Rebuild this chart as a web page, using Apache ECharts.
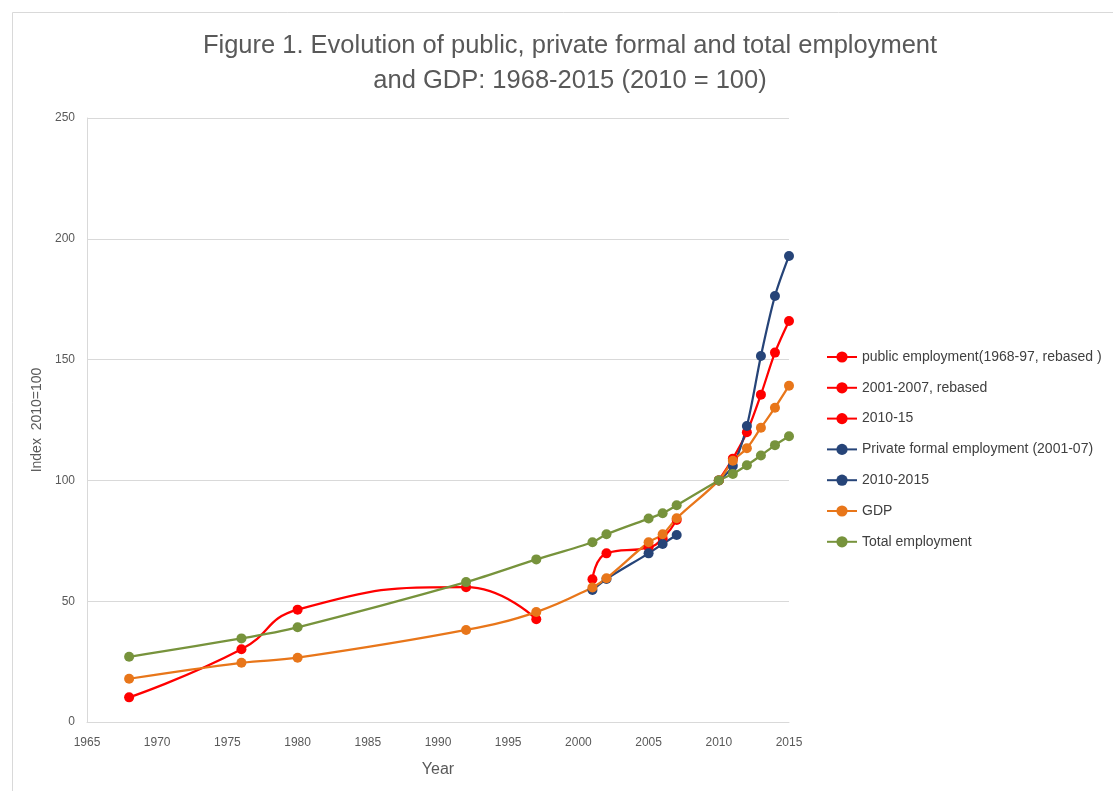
<!DOCTYPE html>
<html>
<head>
<meta charset="utf-8">
<script src="https://cdn.jsdelivr.net/npm/echarts@6/dist/echarts.min.js"></script>
<style>
html,body{margin:0;padding:0;background:#fff;}
#chart{width:1113px;height:791px;}
</style>
</head>
<body>
<div id="chart"></div>
<script>
// ---- data ----
const titleText = "Figure 1. Evolution of public, private formal and total employment\nand GDP: 1968-2015 (2010 = 100)";
const xTicks = [1965, 1970, 1975, 1980, 1985, 1990, 1995, 2000, 2005, 2010, 2015];
const yTicks = [0, 50, 100, 150, 200, 250];

const publicEarlyYears = [1968, 1976, 1980, 1992, 1997];
const publicEarlyValues = [10.2, 30.1, 46.5, 55.8, 42.5];

const publicMidYears = [2001, 2002, 2005, 2006, 2007];
const publicMidValues = [59.1, 69.8, 72.3, 76.0, 83.6];

const publicLateYears = [2010, 2011, 2012, 2013, 2014, 2015];
const publicLateValues = [100, 109.0, 119.9, 135.5, 152.9, 166.0];

const privateMidYears = [2001, 2002, 2005, 2006, 2007];
const privateMidValues = [54.6, 59.2, 69.8, 73.7, 77.4];

const privateLateYears = [2010, 2011, 2012, 2013, 2014, 2015];
const privateLateValues = [100, 106.0, 122.5, 151.5, 176.3, 192.9];

const gdpYears = [1968, 1976, 1980, 1992, 1997, 2001, 2002, 2005, 2006, 2007, 2010, 2011, 2012, 2013, 2014, 2015];
const gdpValues = [17.9, 24.5, 26.6, 38.1, 45.5, 55.7, 59.5, 74.4, 77.7, 84.3, 100, 108.1, 113.3, 121.8, 130.1, 139.2];

const totalYears = [1968, 1976, 1980, 1992, 1997, 2001, 2002, 2005, 2006, 2007, 2010, 2011, 2012, 2013, 2014, 2015];
const totalValues = [27.0, 34.6, 39.2, 57.9, 67.3, 74.4, 77.7, 84.2, 86.4, 89.7, 100, 102.7, 106.3, 110.3, 114.6, 118.3];

const seriesNames = [
  "public employment(1968-97, rebased )",
  "2001-2007, rebased",
  "2010-15",
  "Private formal employment (2001-07)",
  "2010-2015",
  "GDP",
  "Total employment"
];

// ---- build ----
const RED = '#FF0000', BLUE = '#264478', ORANGE = '#E8761A', GREEN = '#77933C';
const FONT = "'Liberation Sans Narrow', 'Liberation Sans', sans-serif";
function pairs(xs, ys){ return xs.map((x,i)=>[x, ys[i]]); }
function mk(name, xs, ys, color, smooth){
  return {
    name: name, type: 'line', data: pairs(xs, ys),
    smooth: smooth, symbol: 'circle', symbolSize: 10,
    lineStyle: {color: color, width: 2.25},
    itemStyle: {color: color},
    emphasis: {disabled: true}
  };
}

const chart = echarts.init(document.getElementById('chart'), null, {renderer: 'canvas'});
chart.setOption({
  animation: false,
  backgroundColor: '#fff',
  textStyle: {fontFamily: FONT},
  title: {
    text: titleText,
    left: 570, top: 28, textAlign: 'center', padding: 0,
    textStyle: {fontFamily: FONT, fontSize: 25.5, fontWeight: 'normal', color: '#595959', lineHeight: 35}
  },
  graphic: [{
    type: 'rect', silent: true, z: -1,
    shape: {x: 12.5, y: 12.5, width: 1300, height: 1000},
    style: {fill: 'none', stroke: '#D9D9D9', lineWidth: 1}
  }],
  legend: {
    orient: 'vertical', left: 826, top: 350, padding: 0,
    itemWidth: 30, itemHeight: 14, itemGap: 16.8,
    textStyle: {fontFamily: FONT, fontSize: 14, color: '#404040'},
    data: seriesNames
  },
  grid: {left: 87, top: 118, width: 702, height: 604, containLabel: false},
  xAxis: {
    type: 'value', min: xTicks[0], max: xTicks[xTicks.length-1], interval: 5,
    name: 'Year', nameLocation: 'middle', nameGap: 40,
    nameTextStyle: {fontFamily: FONT, fontSize: 16, color: '#595959'},
    axisLine: {show: true, lineStyle: {color: '#D9D9D9', width: 1}},
    axisTick: {show: false},
    axisLabel: {margin: 15, fontSize: 12, color: '#595959', fontFamily: FONT,
      formatter: v => String(v)},
    splitLine: {show: false}
  },
  yAxis: {
    type: 'value', min: yTicks[0], max: yTicks[yTicks.length-1], interval: 50,
    name: 'Index  2010=100', nameLocation: 'middle', nameGap: 35,
    nameTextStyle: {fontFamily: FONT, fontSize: 14, color: '#595959'},
    axisLine: {show: true, lineStyle: {color: '#D9D9D9', width: 1}},
    axisTick: {show: false},
    axisLabel: {margin: 12, fontSize: 12, color: '#595959', fontFamily: FONT},
    splitLine: {show: true, lineStyle: {color: '#D9D9D9', width: 1}}
  },
  series: [
    mk(seriesNames[0], publicEarlyYears, publicEarlyValues, RED, 0.5),
    mk(seriesNames[1], publicMidYears, publicMidValues, RED, 0.5),
    mk(seriesNames[2], publicLateYears, publicLateValues, RED, 0.3),
    mk(seriesNames[3], privateMidYears, privateMidValues, BLUE, 0.3),
    mk(seriesNames[4], privateLateYears, privateLateValues, BLUE, 0.3),
    mk(seriesNames[5], gdpYears, gdpValues, ORANGE, 0.4),
    mk(seriesNames[6], totalYears, totalValues, GREEN, 0.3)
  ]
});
</script>
</body>
</html>
